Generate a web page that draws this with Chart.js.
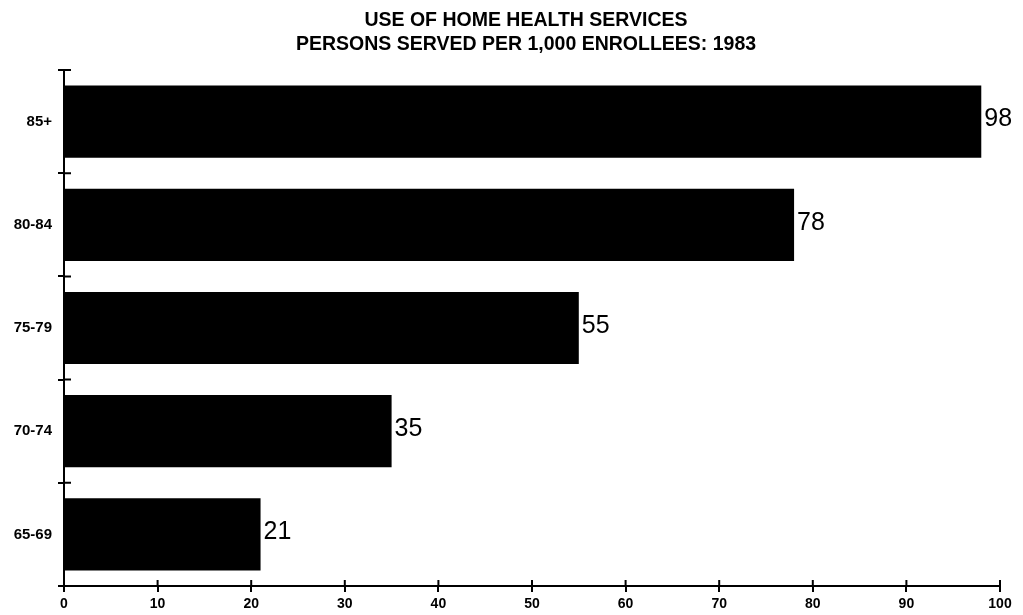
<!DOCTYPE html>
<html><head><meta charset="utf-8">
<script src="https://cdn.jsdelivr.net/npm/chart.js@4"></script>
<style>html,body{margin:0;padding:0;background:#fff}#wrap{width:1023px;height:615px}</style>
</head><body><div id="wrap"><canvas id="c"></canvas></div>
<script>
const titleLines = ["USE OF HOME HEALTH SERVICES", "PERSONS SERVED PER 1,000 ENROLLEES: 1983"];
const ageGroups = ["85+", "80-84", "75-79", "70-74", "65-69"];
const personsServed = [98, 78, 55, 35, 21];
const xMin = 0, xMax = 100, xStep = 10;

const valueLabels = {
  id: 'valueLabels',
  afterDatasetsDraw(chart) {
    const ctx = chart.ctx;
    const meta = chart.getDatasetMeta(0);
    ctx.save();
    ctx.fillStyle = '#000';
    ctx.font = '25px "Liberation Sans", sans-serif';
    ctx.textAlign = 'left';
    ctx.textBaseline = 'middle';
    meta.data.forEach((bar, i) => {
      ctx.fillText(String(personsServed[i]), bar.x + 3, bar.y - 2);
    });
    ctx.restore();
  }
};

const chartTitle = {
  id: 'chartTitle',
  afterDraw(chart) {
    const ctx = chart.ctx, a = chart.chartArea;
    const cx = (a.left + a.right) / 2 - 6;
    ctx.save();
    ctx.fillStyle = '#000';
    ctx.font = 'bold 19.5px "Liberation Sans", sans-serif';
    ctx.textAlign = 'center';
    ctx.textBaseline = 'middle';
    ctx.fillText(titleLines[0], cx, 21);
    ctx.fillText(titleLines[1], cx, 45);
    ctx.restore();
  }
};

const tickCrosses = {
  id: 'tickCrosses',
  afterDraw(chart) {
    const ctx = chart.ctx, a = chart.chartArea;
    const xs = chart.scales.x, ys = chart.scales.y;
    ctx.save();
    ctx.strokeStyle = '#000';
    ctx.lineWidth = 2;
    ctx.beginPath();
    xs.ticks.forEach(t => {
      const px = xs.getPixelForValue(t.value);
      ctx.moveTo(px, a.bottom - 6); ctx.lineTo(px, a.bottom);
    });
    for (let i = 0; i <= ageGroups.length; i++) {
      const py = ys.getPixelForValue(i - 0.5);
      ctx.moveTo(a.left, py); ctx.lineTo(a.left + 7, py);
    }
    ctx.stroke();
    ctx.restore();
  }
};

new Chart(document.getElementById('c'), {
  type: 'bar',
  data: {
    labels: ageGroups,
    datasets: [{
      data: personsServed,
      backgroundColor: '#000',
      borderWidth: 0,
      categoryPercentage: 1.0,
      barPercentage: 0.7
    }]
  },
  plugins: [valueLabels, chartTitle, tickCrosses],
  options: {
    indexAxis: 'y',
    responsive: true,
    maintainAspectRatio: false,
    animation: false,
    layout: { padding: { left: 0, right: 23, top: 70, bottom: 0 } },
    plugins: {
      legend: { display: false },
      tooltip: { enabled: false },
      title: { display: false }
    },
    scales: {
      x: {
        min: xMin, max: xMax,
        ticks: {
          stepSize: xStep,
          color: '#000',
          padding: 4,
          font: { family: '"Liberation Sans", sans-serif', size: 14, weight: 'bold' }
        },
        grid: { drawOnChartArea: false, color: '#000', lineWidth: 2, tickLength: 6 },
        border: { color: '#000', width: 2 },
        afterFit(scale) { scale.height = 29; }
      },
      y: {
        ticks: {
          color: '#000',
          padding: 6,
          font: { family: '"Liberation Sans", sans-serif', size: 15, weight: 'bold' }
        },
        grid: { drawOnChartArea: false, offset: true, color: '#000', lineWidth: 2, tickLength: 6 },
        border: { color: '#000', width: 2 },
        afterFit(scale) { scale.width = 64; }
      }
    }
  }
});
</script></body></html>
